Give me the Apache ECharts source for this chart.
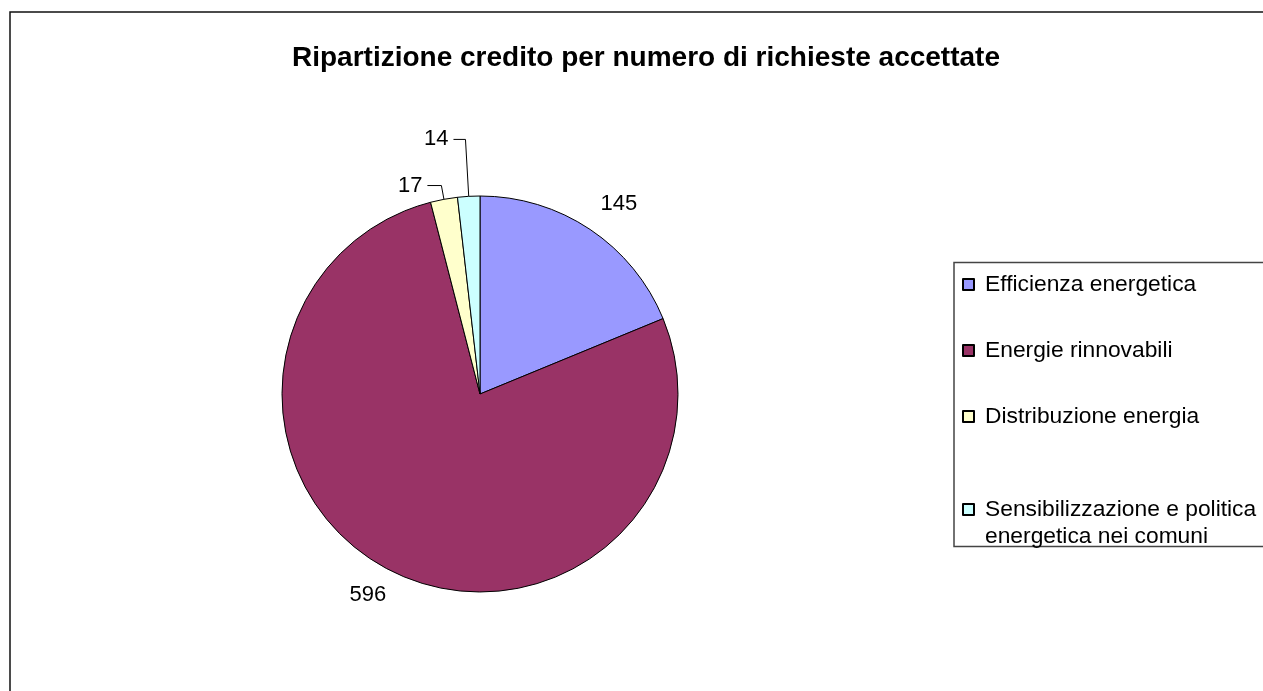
<!DOCTYPE html>
<html>
<head>
<meta charset="utf-8">
<script src="https://cdn.jsdelivr.net/npm/echarts@6/dist/echarts.min.js"></script>
<style>
html,body{margin:0;padding:0;background:#fff;}
#chart{width:1263px;height:691px;}
</style>
</head>
<body>
<div id="chart"></div>
<script>
const titleText = 'Ripartizione credito per numero di richieste accettate';
const categories = ['Efficienza energetica', 'Energie rinnovabili', 'Distribuzione energia', 'Sensibilizzazione e politica energetica nei comuni'];
const legendLabels = ['Efficienza energetica', 'Energie rinnovabili', 'Distribuzione energia', '\nSensibilizzazione e politica\nenergetica nei comuni'];
const values = [145, 596, 17, 14];
const colors = ['#9999FF', '#993366', '#FFFFCC', '#CCFFFF'];

const labelTuning = [
  { showLine: false, length: 31, length2: -12 },
  { showLine: false, length: 27, length2: -12 },
  { showLine: true, length: 14, length2: 14 },
  { showLine: true, length: 57, length2: 12 }
];

const FONT = '"Liberation Sans", Arial, sans-serif';

const chart = echarts.init(document.getElementById('chart'), null, { renderer: 'canvas' });

const data = categories.map((name, i) => ({
  name: name,
  value: values[i],
  itemStyle: { color: colors[i] },
  labelLine: {
    show: labelTuning[i].showLine,
    length: labelTuning[i].length,
    length2: labelTuning[i].length2
  }
}));

chart.setOption({
  animation: false,
  backgroundColor: '#ffffff',
  title: {
    text: titleText,
    left: 287,
    top: 39,
    textStyle: { fontFamily: FONT, fontSize: 28, fontWeight: 'bold', color: '#000' }
  },
  graphic: [
    {
      type: 'rect',
      shape: { x: 10, y: 12, width: 1400, height: 800 },
      style: { fill: 'none', stroke: '#111', lineWidth: 1.5 },
      silent: true, z: -10
    },
    {
      type: 'rect',
      shape: { x: 954, y: 262.5, width: 400, height: 284 },
      style: { fill: 'none', stroke: '#444', lineWidth: 1.5 },
      silent: true, z: -10
    }
  ],
  legend: {
    orient: 'vertical',
    left: 962,
    top: 271,
    padding: 0,
    itemGap: 39,
    itemWidth: 11,
    itemHeight: 11,
    icon: 'rect',
    selectedMode: false,
    formatter: function (name) { return legendLabels[categories.indexOf(name)]; },
    textStyle: { fontFamily: FONT, fontSize: 22.8, color: '#000', lineHeight: 27, padding: [0, 0, 0, 6] },
    data: categories
  },
  series: [{
    type: 'pie',
    center: [480, 394],
    radius: 198,
    startAngle: 90,
    clockwise: true,
    avoidLabelOverlap: false,
    silent: true,
    itemStyle: { borderColor: '#000', borderWidth: 1 },
    label: {
      show: true,
      position: 'outside',
      formatter: '{c}',
      fontFamily: FONT,
      fontSize: 22,
      color: '#000',
      distanceToLabelLine: 5
    },
    labelLine: { lineStyle: { color: '#000', width: 1 }, smooth: false },
    emphasis: { disabled: true },
    data: data
  }]
});
</script>
</body>
</html>
